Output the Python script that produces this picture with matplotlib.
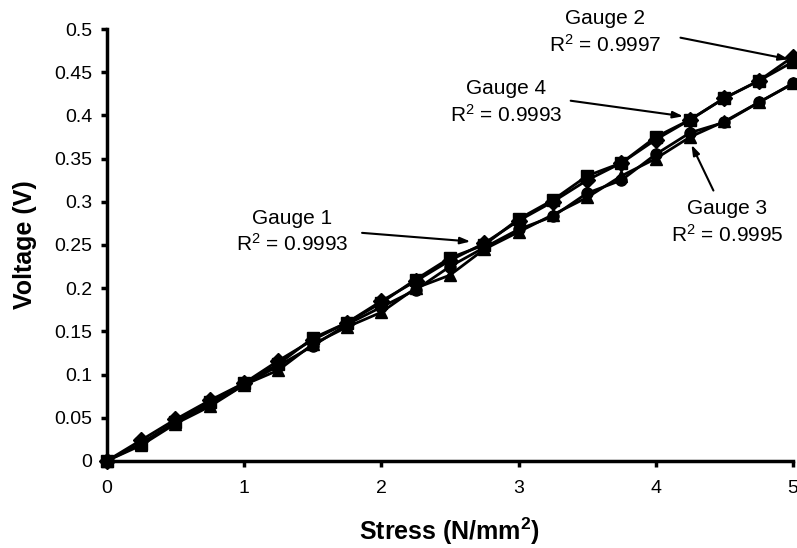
import matplotlib
matplotlib.use('Agg')
import matplotlib.pyplot as plt
import numpy as np

# Stress (N/mm^2)
stress = [0, 0.25, 0.5, 0.75, 1.0, 1.25, 1.5, 1.75, 2.0, 2.25, 2.5,
          2.75, 3.0, 3.25, 3.5, 3.75, 4.0, 4.25, 4.5, 4.75, 5.0]

# Voltage (V)
gauge1 = [0, 0.020, 0.045, 0.065, 0.088, 0.110, 0.133, 0.158, 0.178, 0.198, 0.225,
          0.247, 0.268, 0.283, 0.310, 0.325, 0.355, 0.380, 0.392, 0.415, 0.437]
gauge2 = [0, 0.024, 0.048, 0.070, 0.090, 0.116, 0.140, 0.160, 0.185, 0.208, 0.232,
          0.252, 0.278, 0.300, 0.325, 0.345, 0.372, 0.395, 0.420, 0.440, 0.468]
gauge3 = [0, 0.018, 0.043, 0.063, 0.088, 0.105, 0.135, 0.155, 0.172, 0.200, 0.215,
          0.245, 0.265, 0.285, 0.305, 0.330, 0.350, 0.375, 0.393, 0.415, 0.437]
gauge4 = [0, 0.020, 0.045, 0.068, 0.090, 0.112, 0.142, 0.160, 0.183, 0.210, 0.235,
          0.250, 0.280, 0.302, 0.330, 0.345, 0.375, 0.395, 0.420, 0.440, 0.462]

labels = ['Gauge 1', 'Gauge 2', 'Gauge 3', 'Gauge 4']
r2 = ['0.9993', '0.9997', '0.9995', '0.9993']

plt.rcParams['font.family'] = ['Liberation Sans', 'DejaVu Sans']
plt.rcParams['mathtext.fontset'] = 'custom'
plt.rcParams['mathtext.rm'] = 'Liberation Sans'
plt.rcParams['mathtext.bf'] = 'Liberation Sans:bold'
plt.rcParams['mathtext.default'] = 'regular'

fig = plt.figure(figsize=(7.97, 5.48), dpi=100)
ax = fig.add_axes([0.134, 0.159, 0.861, 0.788])

series = [(gauge2, 'D'), (gauge4, 's'), (gauge3, '^'), (gauge1, 'o')]
for vals, mk in series:
    ax.plot(stress, vals, color='black', lw=2, marker=mk, markersize=8,
            markerfacecolor='black', markeredgecolor='black', clip_on=False)

ax.set_xlim(0, 5)
ax.set_ylim(0, 0.5)
ax.set_xticks(np.arange(0, 6, 1))
ax.set_yticks(np.arange(0, 0.51, 0.05))
ax.set_yticklabels(['0', '0.05', '0.1', '0.15', '0.2', '0.25', '0.3',
                    '0.35', '0.4', '0.45', '0.5'])
ax.spines['top'].set_visible(False)
ax.spines['right'].set_visible(False)
for s in ['left', 'bottom']:
    ax.spines[s].set_linewidth(2.5)
ax.tick_params(axis='both', direction='out', width=2.5, length=4.5,
               labelsize=14)
ax.tick_params(axis='x', pad=9)
ax.tick_params(axis='y', pad=6)
ax.set_xlabel(r'Stress (N/mm$^{\mathbf{2}}$)', fontsize=18, fontweight='bold',
              labelpad=14)
ax.set_ylabel('Voltage (V)', fontsize=18, fontweight='bold', labelpad=12)

# labels with arrows: (text pos, arrow start, arrow end)
notes = [
    (0, (1.35, 0.265), (1.86, 0.264), (2.65, 0.254)),
    (1, (3.63, 0.496), (4.18, 0.490), (4.97, 0.465)),
    (2, (4.52, 0.276), (4.42, 0.313), (4.26, 0.366)),
    (3, (2.91, 0.415), (3.38, 0.417), (4.20, 0.399)),
]
for i, tpos, start, end in notes:
    ax.text(tpos[0], tpos[1], f'{labels[i]}\nR$^2$ = {r2[i]}', ha='center',
            va='center', fontsize=15, linespacing=1.3)
    ax.annotate('', xy=end, xytext=start, annotation_clip=False,
                arrowprops=dict(arrowstyle='-|>,head_length=0.6,head_width=0.2',
                                color='black', lw=1.5, shrinkA=0, shrinkB=0))

fig.savefig('out.png', dpi=100)
